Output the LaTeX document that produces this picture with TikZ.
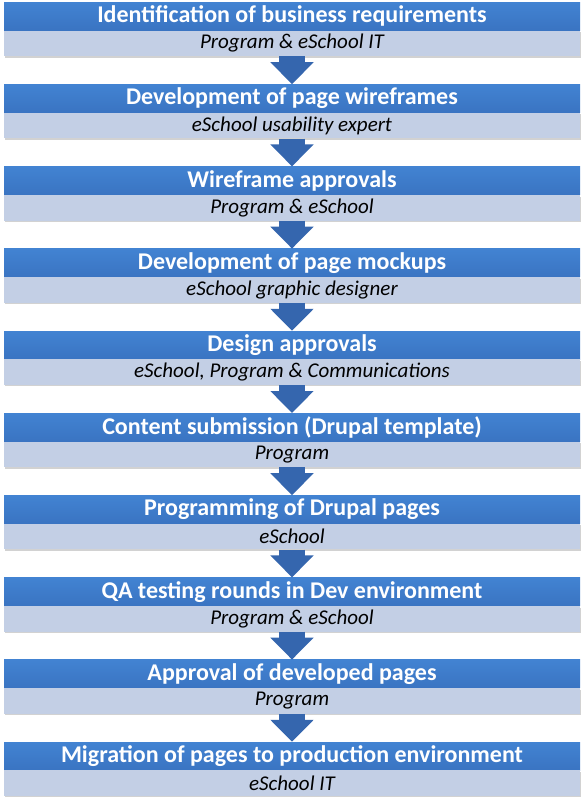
\documentclass[tikz,border=0pt]{standalone}
\usepackage{fontspec}
\setmainfont{Carlito}
\usepackage{tikz}
\usetikzlibrary{positioning,arrows.meta,shadows}
\definecolor{headtop}{HTML}{4283D2}
\definecolor{headbot}{HTML}{3A74C2}
\definecolor{subfill}{HTML}{C3CFE5}
\definecolor{arrowblue}{HTML}{3566AE}
\tikzset{
  headbar/.style={anchor=north, minimum width=576pt, minimum height=28pt, inner sep=0pt,
    top color=headtop, bottom color=headbot, text=white,
    font=\fontsize{24}{28}\selectfont\bfseries},
  subbar/.style={minimum width=576pt, minimum height=25.5pt, inner sep=0pt,
    fill=subfill, text=black, font=\fontsize{21}{24}\selectfont\itshape,
    drop shadow={shadow xshift=1pt, shadow yshift=-1.5pt, opacity=0.35}},
  flowarrow/.style={draw=arrowblue, line width=26pt, -{Triangle[width=42pt,length=22pt]}}
}
\begin{document}
\begin{tikzpicture}
    \useasboundingbox[fill=white] (0,0) rectangle (585pt,-803pt); % page
    % Steps
    \foreach \i/\title/\who in {
        1/Identification of business requirements/Program \& eSchool IT,
        2/Development of page wireframes/eSchool usability expert,
        3/Wireframe approvals/Program \& eSchool,
        4/Development of page mockups/eSchool graphic designer,
        5/Design approvals/{eSchool, Program \& Communications},
        6/Content submission (Drupal template)/Program,
        7/Programming of Drupal pages/eSchool,
        8/QA testing rounds in Dev environment/Program \& eSchool,
        9/Approval of developed pages/Program,
        10/Migration of pages to production environment/eSchool IT}
    {
        \node[headbar] (head\i) at (292pt, {-2pt-(\i-1)*82.2pt}) {\title};
        \node[subbar, below=0pt of head\i] (sub\i) {\who};
    }
    % Arrows
    \foreach \i [evaluate=\i as \j using int(\i+1)] in {1,...,9}
        \draw[flowarrow] (sub\i.south) -- (head\j.north);
\end{tikzpicture}
\end{document}
